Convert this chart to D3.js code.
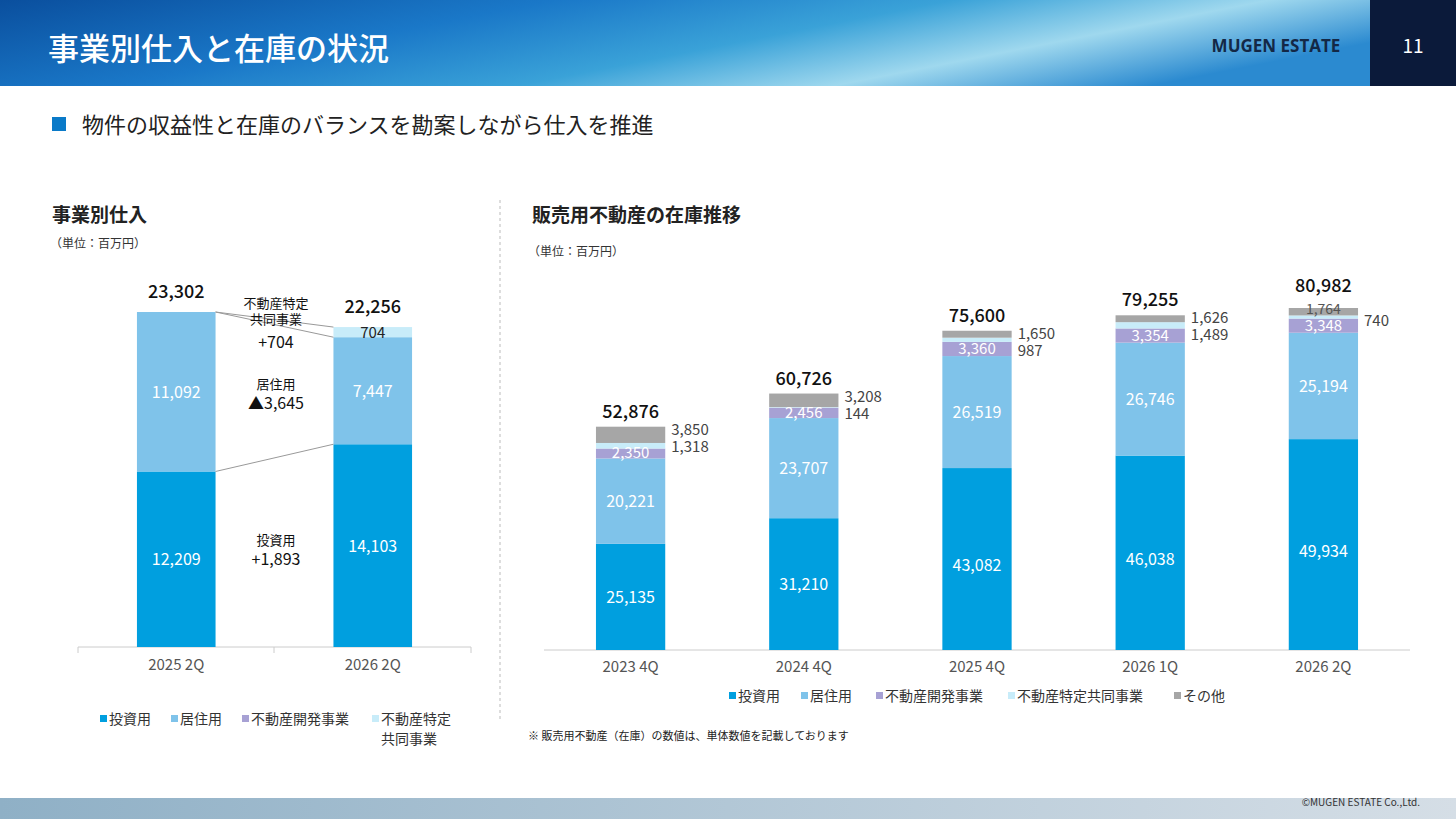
<!DOCTYPE html>
<html><head><meta charset="utf-8">
<script src="https://cdn.jsdelivr.net/npm/d3@7"></script>
<style>body{margin:0;background:#fff;font-family:"Noto Sans CJK JP","Noto Sans",sans-serif}</style>
</head><body><svg id="c" width="1456" height="819"></svg>
<script>
const seriesNames=["投資用","居住用","不動産開発事業","不動産特定共同事業","その他"];
const colors=["#009fdf","#7fc3ea","#a7a1d4","#c8ecf9","#a6a6a6"];
// left chart
const leftCats=["2025 2Q","2026 2Q"];
const leftInvest=[12209,14103];
const leftResid=[11092,7447];
const leftFund=[0,704];
const leftTotals=["23,302","22,256"];
// right chart
const rightCats=["2023 4Q","2024 4Q","2025 4Q","2026 1Q","2026 2Q"];
const rInvest=[25135,31210,43082,46038,49934];
const rResid=[20221,23707,26519,26746,25194];
const rDev=[2350,2456,3360,3354,3348];
const rFund=[1318,144,987,1489,740];
const rOther=[3850,3208,1650,1626,1764];
const rTotals=["52,876","60,726","75,600","79,255","80,982"];

const svg=d3.select("#c");
const fmt=d3.format(",");
const defs=svg.append("defs");
const g1=defs.append("linearGradient").attr("id","hg").attr("x1",0).attr("x2",1).attr("y1",0).attr("y2",0.3);
[[0,"#0a4f9e"],[0.35,"#1a78c8"],[0.6,"#3aa2d8"],[0.8,"#9fd8ee"],[1,"#2b8ad0"]].forEach(s=>g1.append("stop").attr("offset",s[0]).attr("stop-color",s[1]));
svg.append("rect").attr("width",1456).attr("height",86).attr("fill","url(#hg)");
svg.append("rect").attr("x",1370).attr("width",86).attr("height",86).attr("fill","#0b1a3a");
svg.append("text").attr("x",48).attr("y",60).attr("fill","#fff").attr("font-size",31).attr("font-weight",500).text("事業別仕入と在庫の状況");
svg.append("text").attr("x",1276).attr("y",52).attr("fill","#132846").attr("font-size",17).attr("font-weight",700).attr("text-anchor","middle").attr("font-family","Open Sans").text("MUGEN ESTATE");
svg.append("text").attr("x",1413).attr("y",53).attr("fill","#fff").attr("font-size",19).attr("text-anchor","middle").text("11");
const g2=defs.append("linearGradient").attr("id","fg");
[[0,"#8fb0c6"],[1,"#d5dee6"]].forEach(s=>g2.append("stop").attr("offset",s[0]).attr("stop-color",s[1]));
svg.append("rect").attr("y",798).attr("width",1456).attr("height",21).attr("fill","url(#fg)");
svg.append("text").attr("x",1420).attr("y",806).attr("font-size",10).attr("text-anchor","end").attr("fill","#333").text("©MUGEN ESTATE Co.,Ltd.");
svg.append("rect").attr("x",52).attr("y",117).attr("width",14).attr("height",14).attr("fill","#0a7ac8");
svg.append("text").attr("x",82).attr("y",133).attr("font-size",22).attr("fill","#222").text("物件の収益性と在庫のバランスを勘案しながら仕入を推進");
svg.append("text").attr("x",52).attr("y",222).attr("font-size",19).attr("font-weight",700).attr("fill","#222").text("事業別仕入");
svg.append("text").attr("x",50).attr("y",248).attr("font-size",12).attr("fill","#333").text("（単位：百万円）");
svg.append("text").attr("x",532).attr("y",222).attr("font-size",19).attr("font-weight",700).attr("fill","#222").text("販売用不動産の在庫推移");
svg.append("text").attr("x",528).attr("y",256).attr("font-size",12).attr("fill","#333").text("（単位：百万円）");
svg.append("line").attr("x1",500).attr("x2",500).attr("y1",200).attr("y2",720).attr("stroke","#bbb").attr("stroke-dasharray","3,3");
svg.append("text").attr("x",528).attr("y",740).attr("font-size",11).attr("fill","#222").text("※ 販売用不動産（在庫）の数値は、単体数値を記載しております");

// left chart
const lx=d3.scaleBand().domain(leftCats).range([78,471]).paddingInner(0.6).paddingOuter(0.3);
const ly=d3.scaleLinear().domain([0,23302]).range([647,312]);
const L=svg.append("g");
L.append("line").attr("x1",78).attr("x2",471).attr("y1",647).attr("y2",647).attr("stroke","#ccc");
[78,274,471].forEach(x=>L.append("line").attr("x1",x).attr("x2",x).attr("y1",647).attr("y2",653).attr("stroke","#ccc"));
const lStacks=[leftInvest,leftResid,leftFund];
const lColors=[colors[0],colors[1],colors[3]];
leftCats.forEach((c,i)=>{
  let base=0;
  lStacks.forEach((arr,k)=>{
    const v=arr[i]; if(!v)return;
    const y0=ly(base),y1=ly(base+v);
    L.append("rect").attr("x",lx(c)).attr("width",lx.bandwidth()).attr("y",y1).attr("height",y0-y1).attr("fill",lColors[k]);
    L.append("text").attr("x",lx(c)+lx.bandwidth()/2).attr("y",(y0+y1)/2+6).attr("text-anchor","middle").attr("font-size",k==2?15:16)
      .attr("fill",k==2?"#222":"#fff").text(fmt(v));
    base+=v;
  });
  L.append("text").attr("x",lx(c)+lx.bandwidth()/2).attr("y",ly(base)-14).attr("text-anchor","middle").attr("font-size",18).attr("font-weight",500).attr("fill","#111").text(leftTotals[i]);
  L.append("text").attr("x",lx(c)+lx.bandwidth()/2).attr("y",670).attr("text-anchor","middle").attr("font-size",15).attr("fill","#555").text(c);
});
const a=leftCats[0],b=leftCats[1];
[[leftInvest[0],leftInvest[1]],[leftInvest[0]+leftResid[0],leftInvest[1]+leftResid[1]+leftFund[1]]].forEach(p=>{
  L.append("line").attr("x1",lx(a)+lx.bandwidth()).attr("x2",lx(b)).attr("y1",ly(p[0])).attr("y2",ly(p[1])).attr("stroke","#999");
});
L.append("line").attr("x1",lx(a)+lx.bandwidth()).attr("x2",lx(b)).attr("y1",ly(leftInvest[0]+leftResid[0])).attr("y2",ly(leftInvest[1]+leftResid[1])).attr("stroke","#999");
const ann=[[308,["不動産特定","共同事業"],13,16],[348,["+704"],16],[389,["居住用"],13],[409,["▲3,645"],16],[545,["投資用"],13],[565,["+1,893"],16]];
ann.forEach(t=>{t[1].forEach((s,j)=>L.append("text").attr("x",276).attr("y",t[0]+j*(t[3]||18)).attr("text-anchor","middle").attr("font-size",t[2]).attr("fill","#111").text(s));});
const ll=[[100,0,"投資用"],[171,1,"居住用"],[242,2,"不動産開発事業"],[372,3,"不動産特定"]];
ll.forEach(d=>{L.append("rect").attr("x",d[0]).attr("y",715).attr("width",7).attr("height",7).attr("fill",colors[d[1]]);
 L.append("text").attr("x",d[0]+9).attr("y",724).attr("font-size",14).attr("fill","#333").text(d[2]);});
L.append("text").attr("x",381).attr("y",744).attr("font-size",14).attr("fill","#333").text("共同事業");

// right chart
const rx=d3.scaleBand().domain(rightCats).range([544,1410]).paddingInner(0.6).paddingOuter(0.3);
const ry=d3.scaleLinear().domain([0,80982]).range([650,308]);
const R=svg.append("g");
R.append("line").attr("x1",544).attr("x2",1410).attr("y1",650).attr("y2",650).attr("stroke","#ccc");
const rStacks=[rInvest,rResid,rDev,rFund,rOther];
rightCats.forEach((c,i)=>{
  let base=0; const x=rx(c),w=rx.bandwidth(),cx=x+w/2;
  const ys=[];
  rStacks.forEach((arr,k)=>{
    const v=arr[i],y0=ry(base),y1=ry(base+v);
    R.append("rect").attr("x",x).attr("width",w).attr("y",y1).attr("height",y0-y1).attr("fill",colors[k]);
    ys.push([y0,y1]); base+=v;
  });
  const lbl=(t,y,fill,fs)=>R.append("text").attr("x",cx).attr("y",y).attr("text-anchor","middle").attr("font-size",fs||16).attr("fill",fill).text(t);
  lbl(fmt(rInvest[i]),(ys[0][0]+ys[0][1])/2+(i>=2?12:6),"#fff");
  lbl(fmt(rResid[i]),(ys[1][0]+ys[1][1])/2+6,"#fff");
  lbl(fmt(rDev[i]),(ys[2][0]+ys[2][1])/2+5,"#fff",15);
  if(i<4){
    R.append("text").attr("x",x+w+6).attr("y",ys[4][1]+8).attr("font-size",15).attr("fill","#444").text(fmt(rOther[i]));
    R.append("text").attr("x",x+w+6).attr("y",ys[4][1]+25).attr("font-size",15).attr("fill","#444").text(fmt(rFund[i]));
  } else {
    R.append("text").attr("x",x+w+6).attr("y",ys[4][1]+18).attr("font-size",15).attr("fill","#444").text(fmt(rFund[i]));
    lbl(fmt(rOther[i]),ys[4][1]+6,"#555",14);
  }
  R.append("text").attr("x",cx).attr("y",ry(base)-(i==4?16:9)).attr("text-anchor","middle").attr("font-size",18).attr("font-weight",500).attr("fill","#111").text(rTotals[i]);
  R.append("text").attr("x",cx).attr("y",672).attr("text-anchor","middle").attr("font-size",15).attr("fill","#555").text(c);
});
const rl=[[729,"投資用"],[801,"居住用"],[876,"不動産開発事業"],[1008,"不動産特定共同事業"],[1174,"その他"]];
rl.forEach((d,k)=>{R.append("rect").attr("x",d[0]).attr("y",692).attr("width",7).attr("height",7).attr("fill",colors[k]);
 R.append("text").attr("x",d[0]+9).attr("y",701).attr("font-size",14).attr("fill","#333").text(d[1]);});
</script></body></html>
